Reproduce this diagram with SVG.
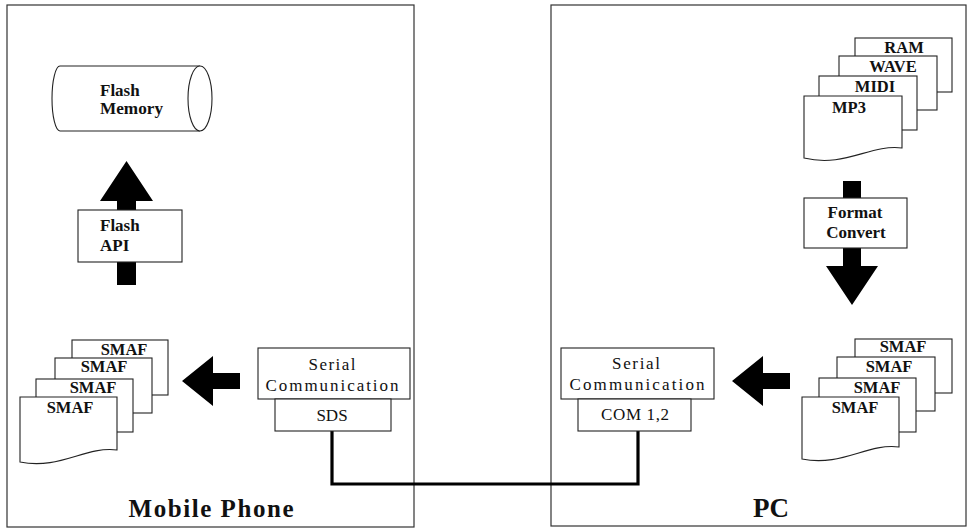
<svg xmlns="http://www.w3.org/2000/svg" width="969" height="530" viewBox="0 0 969 530">
<style>
.panel{fill:#fff;stroke:#333;stroke-width:1.2}
.box{fill:#fff;stroke:#222;stroke-width:1.1}
.t{font-family:"Liberation Serif","Times New Roman",serif;fill:#111}
.b{font-weight:bold}
.lbl{font-size:17px}
.ser{font-size:17px}
.doc{font-size:16.5px;font-weight:bold}
.big{font-size:25px;font-weight:bold}
.arrow{fill:#000}
.cable{fill:none;stroke:#000;stroke-width:3.2}
</style>
<rect width="969" height="530" fill="#fff"/>
<g id="panel-mobile"><rect class="panel" x="7" y="5" width="407" height="522"/>
<text class="t big" x="211" y="517" text-anchor="middle" textLength="165" lengthAdjust="spacing">Mobile Phone</text></g>
<g id="panel-pc"><rect class="panel" x="551" y="5" width="415" height="521"/>
<text class="t big" x="771" y="517" text-anchor="middle" style="font-size:27px">PC</text></g>

<g id="connectors">
<polygon class="arrow" points="126.5,161 153,201 136,201 136,285 117,285 117,201 100,201"/>
<polygon class="arrow" points="843,181 861,181 861,266 878,266 852,305 826,266 843,266"/>
<polygon class="arrow" points="182,381 213,356 213,373 240,373 240,389 213,389 213,406"/>
<polygon class="arrow" points="732,381 763,356 763,373 790,373 790,389 763,389 763,406"/>
<polyline class="cable" points="332,431 332,484 638,484 638,431"/>
</g>

<g id="flash-memory">
<path class="box" d="M200,66 H60 A8,32.5 0 0 0 60,131 H200"/>
<ellipse class="box" cx="200" cy="98.5" rx="12" ry="32.5"/>
<text class="t b lbl" x="100" y="96">Flash</text>
<text class="t b lbl" x="100" y="114" textLength="63" lengthAdjust="spacingAndGlyphs">Memory</text>
</g>

<g id="flash-api">
<rect class="box" x="78" y="210" width="104" height="52"/>
<text class="t b lbl" x="100" y="231">Flash</text>
<text class="t b lbl" x="100" y="251">API</text>
</g>

<g id="smaf-phone">
<rect class="box" x="72" y="340" width="96" height="55"/>
<text class="t doc" x="124" y="355" text-anchor="middle">SMAF</text>
<rect class="box" x="55" y="358" width="97" height="55"/>
<text class="t doc" x="104" y="372" text-anchor="middle">SMAF</text>
<rect class="box" x="36" y="379" width="97" height="53"/>
<text class="t doc" x="93" y="393" text-anchor="middle">SMAF</text>
<path class="box" d="M20,397 H117 V450 C85,446 60,470 20,462 Z"/>
<text class="t doc" x="70" y="413" text-anchor="middle">SMAF</text>
</g>

<g id="serial-phone">
<rect class="box" x="258" y="348" width="152" height="51"/>
<text class="t ser" x="332" y="370" text-anchor="middle" textLength="47" lengthAdjust="spacing">Serial</text>
<text class="t ser" x="332" y="391" text-anchor="middle" textLength="133" lengthAdjust="spacing">Communication</text>
</g>
<g id="sds">
<rect class="box" x="275" y="399" width="116" height="32"/>
<text class="t ser" x="332" y="421" text-anchor="middle">SDS</text>
</g>

<g id="serial-pc">
<rect class="box" x="561" y="348" width="153" height="51"/>
<text class="t ser" x="636" y="369" text-anchor="middle" textLength="48" lengthAdjust="spacing">Serial</text>
<text class="t ser" x="637" y="390" text-anchor="middle" textLength="135" lengthAdjust="spacing">Communication</text>
</g>
<g id="com">
<rect class="box" x="578" y="399" width="113" height="32"/>
<text class="t ser" x="635" y="420" text-anchor="middle" textLength="68" lengthAdjust="spacing">COM 1,2</text>
</g>

<g id="smaf-pc">
<rect class="box" x="855" y="339" width="97" height="54"/>
<text class="t doc" x="903" y="352" text-anchor="middle">SMAF</text>
<rect class="box" x="837" y="357" width="98" height="54"/>
<text class="t doc" x="889" y="372" text-anchor="middle">SMAF</text>
<rect class="box" x="819" y="378" width="97" height="54"/>
<text class="t doc" x="877" y="393" text-anchor="middle">SMAF</text>
<path class="box" d="M802,397 H899 V447 C867,443 842,467 802,459 Z"/>
<text class="t doc" x="855" y="413" text-anchor="middle">SMAF</text>
</g>

<g id="audio-files">
<rect class="box" x="855" y="38" width="97" height="54"/>
<text class="t doc" x="904" y="53" text-anchor="middle">RAM</text>
<rect class="box" x="839" y="56" width="98" height="54"/>
<text class="t doc" x="893" y="72" text-anchor="middle">WAVE</text>
<rect class="box" x="819" y="76" width="98" height="54"/>
<text class="t doc" x="875" y="92" text-anchor="middle">MIDI</text>
<path class="box" d="M804,96 H902 V148 C870,144 845,168 804,158 Z"/>
<text class="t doc" x="849" y="113" text-anchor="middle">MP3</text>
</g>

<g id="format-convert">
<rect class="box" x="804" y="198" width="103" height="50"/>
<text class="t b lbl" x="855" y="218" text-anchor="middle">Format</text>
<text class="t b lbl" x="856" y="238" text-anchor="middle">Convert</text>
</g>
</svg>
